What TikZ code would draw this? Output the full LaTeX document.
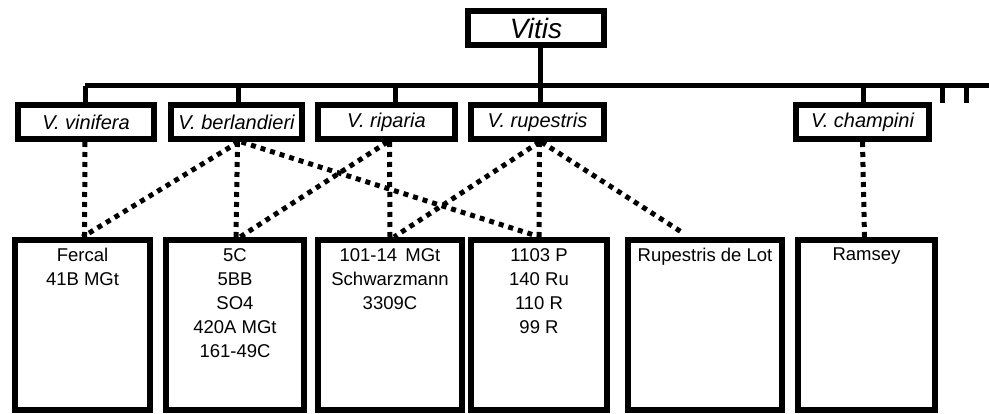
\documentclass[tikz,border=0pt]{standalone}
\usepackage{fontspec}
\setmainfont{Liberation Sans}
\usetikzlibrary{calc}
\tikzset{
  spbox/.style={draw, line width=6pt, rectangle, inner sep=0pt, minimum height=34pt,
    font=\fontsize{20}{24}\selectfont\itshape},
  topbox/.style={draw, line width=6pt, rectangle, inner sep=0pt, minimum width=136pt, minimum height=34pt,
    font=\fontsize{28}{32}\selectfont\itshape},
  cvbox/.style={draw, line width=6pt, rectangle, inner sep=0pt, minimum height=170pt},
  cvtext/.style={anchor=north, inner sep=0pt, align=center, font=\fontsize{18.5}{24}\selectfont},
  tree/.style={line width=5pt},
  dots/.style={line width=5pt, dash pattern=on 5pt off 5pt}
}
\begin{document}
\begin{tikzpicture}[x=1pt,y=-1pt]
\useasboundingbox (0,0) rectangle (989,414);
\fill[white] (0,0) rectangle (989,414);
% top
\node[topbox] (vitis) at (536,28) {Vitis};
% species
\node[spbox, minimum width=136pt] (vin) at (86,122) {V. vinifera};
\node[spbox, minimum width=131pt] (ber) at (236.5,122) {V. berlandieri};
\node[spbox, minimum width=137pt] (rip) at (386.5,122) {V. riparia};
\node[spbox, minimum width=133pt] (rup) at (537.5,122) {V. rupestris};
\node[spbox, minimum width=133pt] (cha) at (862.5,122) {V. champini};
% cultivar boxes
\node[cvbox, minimum width=135pt] (fer) at (82.5,325) {};
\node[cvbox, minimum width=138pt] (c5) at (235,325) {};
\node[cvbox, minimum width=144pt] (m101) at (390,325) {};
\node[cvbox, minimum width=136pt] (p1103) at (539,325) {};
\node[cvbox, minimum width=154pt] (lot) at (705,325) {};
\node[cvbox, minimum width=137pt] (ram) at (866.5,325) {};
\node[cvtext] (tfer) at ($(fer.north)+(0,11)$) {Fercal\\41B MGt};
\node[cvtext] (tc5) at ($(c5.north)+(0,11)$) {5C\\5BB\\SO4\\420A MGt\\161-49C};
\node[cvtext] (tm101) at ($(m101.north)+(0,11)$) {101-14\, MGt\\Schwarzmann\\3309C};
\node[cvtext] (tp1103) at ($(p1103.north)+(0,11)$) {1103 P\\140 Ru\\110 R\\99 R};
\node[cvtext] (tlot) at ($(lot.north)+(0,11)$) {Rupestris de Lot};
\node[cvtext] (tram) at ($(ram.north)+(0,11)$) {Ramsey};
% tree lines
\coordinate (hl) at (85,86);
\coordinate (hr) at (989,86);
\coordinate (d1) at (85,86);
\coordinate (d2) at (238,86);
\coordinate (d3) at (395,86);
\coordinate (d4) at (540,86);
\coordinate (d5) at (863,86);
\coordinate (t1) at (942,86);
\coordinate (t2) at (966,86);
\coordinate (t1e) at (942,103);
\coordinate (t2e) at (966,103);
\draw[tree] (hl) -- (hr);
\draw[tree] (vitis.south -| d4) -- (d4);
\draw[tree] (d1) -- (d1 |- vin.north);
\draw[tree] (d2) -- (d2 |- ber.north);
\draw[tree] (d3) -- (d3 |- rip.north);
\draw[tree] (d4) -- (d4 |- rup.north);
\draw[tree] (d5) -- (d5 |- cha.north);
\draw[tree] (t1) -- (t1e);
\draw[tree] (t2) -- (t2e);
% dotted parentage
\draw[dots] ($(vin.south)+(-1,0)$) -- ($(fer.north)+(2,0)$);
\draw[dots] ($(ber.south)+(2,0)$) -- ($(fer.north)+(0,0)$);
\draw[dots] ($(ber.south)+(1,0)$) -- ($(c5.north)+(1,0)$);
\draw[dots] ($(ber.south)+(5,0)$) -- ($(p1103.north)+(1,0)$);
\draw[dots] ($(rip.south)+(1,0)$) -- ($(c5.north)+(5,0)$);
\draw[dots] ($(rip.south)+(3,0)$) -- ($(m101.north)+(0,0)$);
\draw[dots] ($(rup.south)+(2,0)$) -- ($(m101.north)+(4,0)$);
\draw[dots] ($(rup.south)+(2,0)$) -- ($(p1103.north)+(0,0)$);
\draw[dots] ($(rup.south)+(4,0)$) -- ($(lot.north)+(-22,-4)$);
\draw[dots] ($(cha.south)+(0,0)$) -- ($(ram.north)+(-2,0)$);
\end{tikzpicture}
\end{document}
